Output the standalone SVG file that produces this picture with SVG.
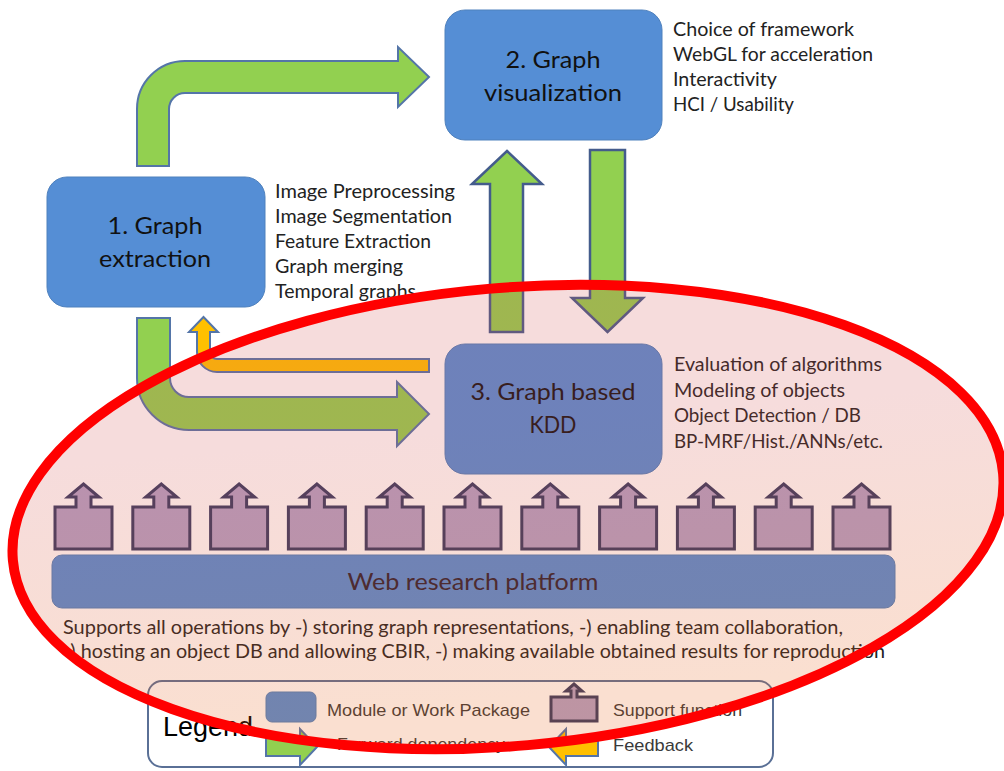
<svg xmlns="http://www.w3.org/2000/svg" width="1004" height="771" viewBox="0 0 1004 771">
<style>
.node{fill:#558ed5;stroke:#4f81bd;stroke-width:1}
.ntext{font-family:Lato,"Open Sans",sans-serif;font-size:23px;fill:#111;text-anchor:middle}
.side{font-family:Lato,"Open Sans",sans-serif;font-size:19px;fill:#222}
.green{fill:#92d050;stroke:#5475a8;stroke-width:2;stroke-linejoin:miter}
.vgreen{fill:#92d050;stroke:#445c8c;stroke-width:2.5}
.yellow{fill:#ffc000;stroke:#5475a8;stroke-width:2}
.support{fill:#b3a2c7;stroke:#363b62;stroke-width:3;stroke-linejoin:miter}
.leg{font-family:"Liberation Sans",Arial,sans-serif;font-size:17px;fill:#3a3a3a}
</style>
<defs>
<path id="sup" d="M0 23 L21 23 L21 13 L13 13 L28.5 0 L44 13 L36 13 L36 23 L57 23 L57 65 L0 65 Z"/>
<linearGradient id="tint" x1="0" y1="0" x2="0" y2="1">
<stop offset="0.3" stop-color="rgb(210,80,80)"/>
<stop offset="0.9" stop-color="rgb(230,95,20)"/>
</linearGradient>
</defs>
<rect width="1004" height="771" fill="#ffffff"/>

<g id="connectors">
<path class="green" d="M137 166 L137 109 A48 48 0 0 1 185 61 L398 61 L398 47 L429 77 L398 107 L398 93 L185 93 A16 16 0 0 0 169 109 L169 166 Z"/>
<path class="green" d="M137 318 L137 378 A52 52 0 0 0 189 430 L397 430 L397 446 L429 414 L397 382 L397 397 L189 397 A19 19 0 0 1 170 378 L170 318 Z"/>
<path class="yellow" d="M429 359 L217 359 A7 7 0 0 1 210 352 L210 332 L218 332 L203.5 317 L189 332 L197 332 L197 352 A20 20 0 0 0 217 372 L429 372 Z"/>
<path class="vgreen" d="M490 332 L490 184 L472 184 L507 151 L542 184 L523 184 L523 332 Z"/>
<path class="vgreen" d="M590 150 L625 150 L625 298 L643 298 L607.5 332 L572 298 L590 298 Z"/>
</g>

<g id="node1">
<rect class="node" x="47" y="177" width="218" height="130" rx="20"/>
<text class="ntext" x="155" y="234" textLength="95" lengthAdjust="spacingAndGlyphs">1. Graph</text>
<text class="ntext" x="155" y="267" textLength="112" lengthAdjust="spacingAndGlyphs">extraction</text>
<text class="side" x="275" y="198" textLength="180" lengthAdjust="spacingAndGlyphs">Image Preprocessing</text>
<text class="side" x="275" y="223" textLength="177" lengthAdjust="spacingAndGlyphs">Image Segmentation</text>
<text class="side" x="275" y="248" textLength="156" lengthAdjust="spacingAndGlyphs">Feature Extraction</text>
<text class="side" x="275" y="273" textLength="128" lengthAdjust="spacingAndGlyphs">Graph merging</text>
<text class="side" x="275" y="298" textLength="141" lengthAdjust="spacingAndGlyphs">Temporal graphs</text>
</g>

<g id="node2">
<rect class="node" x="445" y="10" width="217" height="130" rx="20"/>
<text class="ntext" x="553" y="68" textLength="95" lengthAdjust="spacingAndGlyphs">2. Graph</text>
<text class="ntext" x="553" y="101" textLength="138" lengthAdjust="spacingAndGlyphs">visualization</text>
<text class="side" x="673" y="36" textLength="181" lengthAdjust="spacingAndGlyphs">Choice of framework</text>
<text class="side" x="673" y="61" textLength="200" lengthAdjust="spacingAndGlyphs">WebGL for acceleration</text>
<text class="side" x="673" y="86" textLength="104" lengthAdjust="spacingAndGlyphs">Interactivity</text>
<text class="side" x="673" y="111" textLength="121" lengthAdjust="spacingAndGlyphs">HCI / Usability</text>
</g>

<g id="node3">
<rect class="node" x="445" y="344" width="217" height="130" rx="20"/>
<text class="ntext" x="553" y="400" textLength="165" lengthAdjust="spacingAndGlyphs">3. Graph based</text>
<text class="ntext" x="553" y="433" textLength="47" lengthAdjust="spacingAndGlyphs">KDD</text>
<text class="side" x="674" y="371" textLength="208" lengthAdjust="spacingAndGlyphs">Evaluation of algorithms</text>
<text class="side" x="674" y="397" textLength="171" lengthAdjust="spacingAndGlyphs">Modeling of objects</text>
<text class="side" x="674" y="422" textLength="187" lengthAdjust="spacingAndGlyphs">Object Detection / DB</text>
<text class="side" x="674" y="448" textLength="209" lengthAdjust="spacingAndGlyphs">BP-MRF/Hist./ANNs/etc.</text>
</g>

<g id="support-functions">
<use href="#sup" class="support" x="55" y="484"/>
<use href="#sup" class="support" x="132.8" y="484"/>
<use href="#sup" class="support" x="210.6" y="484"/>
<use href="#sup" class="support" x="288.4" y="484"/>
<use href="#sup" class="support" x="366.2" y="484"/>
<use href="#sup" class="support" x="444" y="484"/>
<use href="#sup" class="support" x="521.8" y="484"/>
<use href="#sup" class="support" x="599.6" y="484"/>
<use href="#sup" class="support" x="677.4" y="484"/>
<use href="#sup" class="support" x="755.2" y="484"/>
<use href="#sup" class="support" x="833" y="484"/>
</g>

<g id="platform">
<rect class="node" x="52" y="555" width="843" height="53" rx="10" stroke="#6a8ac0"/>
<text x="473" y="590" font-family="Lato,'Open Sans',sans-serif" font-size="23" fill="#2a2030" text-anchor="middle" textLength="251" lengthAdjust="spacingAndGlyphs">Web research platform</text>
<text class="side" x="63" y="634" font-size="18" textLength="780" lengthAdjust="spacingAndGlyphs">Supports all operations by -) storing graph representations, -) enabling team collaboration,</text>
<text class="side" x="63" y="658" font-size="18" textLength="822" lengthAdjust="spacingAndGlyphs">-) hosting an object DB and allowing CBIR, -) making available obtained results for reproduction</text>
</g>

<g id="legend">
<rect x="148" y="681" width="625" height="86" rx="14" fill="#ffffff" stroke="#5a7096" stroke-width="2"/>
<text x="163" y="736" font-family="'Liberation Sans',Arial,sans-serif" font-size="28" fill="#000" textLength="90" lengthAdjust="spacingAndGlyphs">Legend</text>
<rect class="node" x="266" y="692" width="50" height="30" rx="6"/>
<text class="leg" x="327" y="716" textLength="203" lengthAdjust="spacingAndGlyphs">Module or Work Package</text>
<path class="green" d="M266 737 L300 737 L300 729 L317 747 L300 765 L300 756 L266 756 Z"/>
<text class="leg" x="337" y="750" textLength="168" lengthAdjust="spacingAndGlyphs">Forward dependency</text>
<path class="support" d="M551 697 L571 697 L571 691 L566 691 L574 684 L582 691 L577 691 L577 697 L597 697 L597 721 L551 721 Z" stroke-width="2.5"/>
<text class="leg" x="613" y="716" textLength="129" lengthAdjust="spacingAndGlyphs">Support function</text>
<path class="yellow" d="M598 737 L566 737 L566 729 L549 747 L566 765 L566 756 L598 756 Z"/>
<text class="leg" x="613" y="751" textLength="80" lengthAdjust="spacingAndGlyphs">Feedback</text>
</g>

<g id="highlight">
<ellipse cx="508" cy="517" rx="497" ry="229" transform="rotate(-5 508 517)" fill="url(#tint)" fill-opacity="0.2" stroke="#ff0000" stroke-width="10"/>
</g>
</svg>
